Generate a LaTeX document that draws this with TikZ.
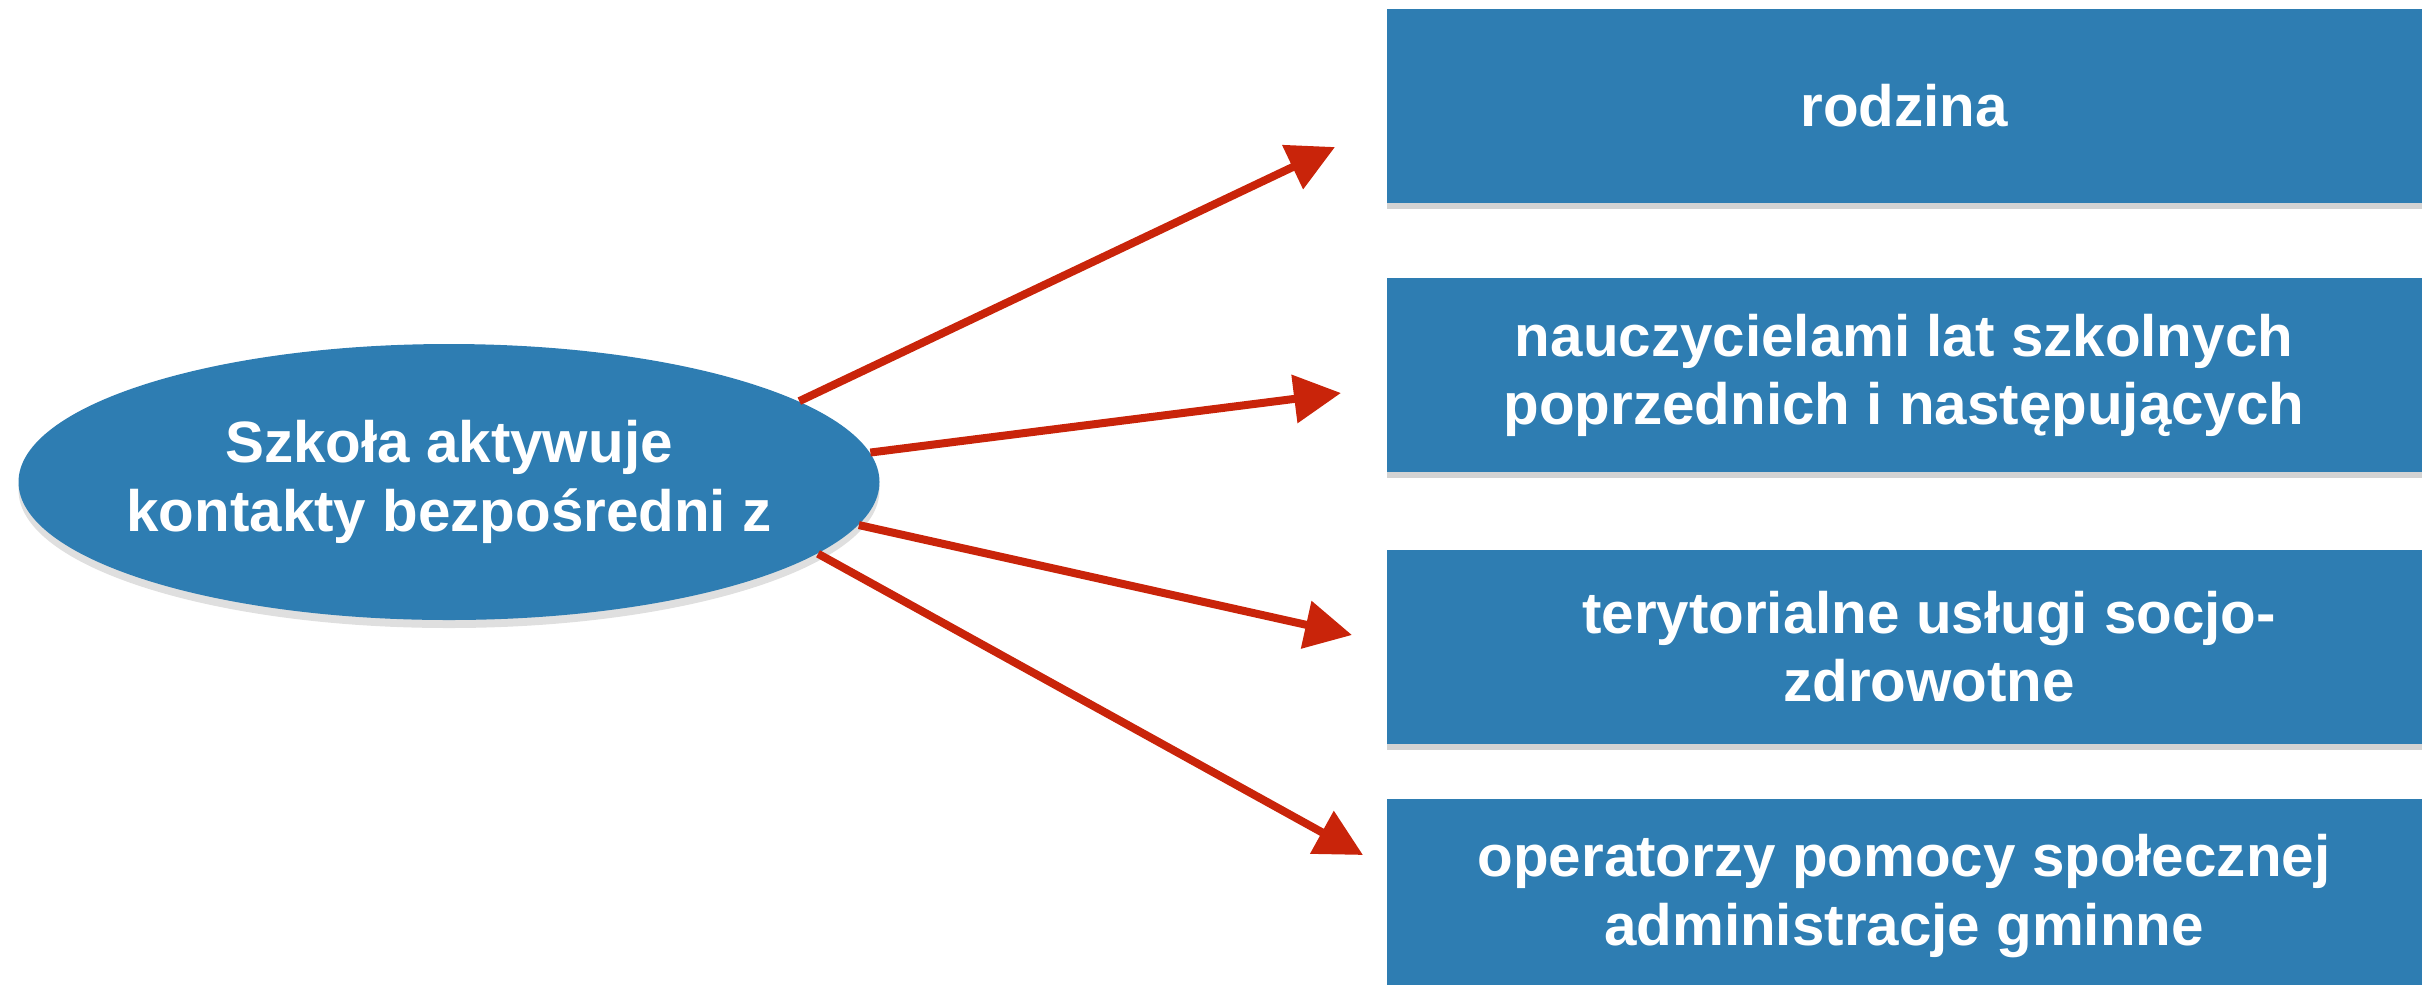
\documentclass[tikz,border=0pt]{standalone}
\usepackage{fontspec}
\setmainfont{Liberation Sans}
\usepackage{xcolor}
\usetikzlibrary{shapes.geometric,arrows.meta,positioning,shadows}
\definecolor{kafel}{RGB}{46,125,178}
\definecolor{strzalka}{RGB}{201,36,10}

\begin{document}
\begin{tikzpicture}[
        every node/.style={font=\bfseries\fontsize{16.6}{19.5}\selectfont, text=white, align=center},
        kafel/.style={rectangle, fill=kafel, minimum width=10.35cm, minimum height=1.94cm, inner sep=0pt,
            drop shadow={shadow xshift=0pt, shadow yshift=-0.06cm, opacity=0.35}},
        szkola/.style={ellipse, fill=kafel, minimum width=8.61cm, minimum height=2.76cm, inner xsep=-0.4cm, inner ysep=0pt,
            drop shadow={shadow xshift=0pt, shadow yshift=-0.08cm, opacity=0.25}},
        strzal/.style={draw=strzalka, line width=0.08cm, -{Triangle[length=0.47cm, width=0.47cm]}}]

    \useasboundingbox (0,0) rectangle (24.29,-9.84);

    % centre
    \node[szkola] (szkola) at (4.49,-4.82) {Szkoła aktywuje\\kontakty bezpośredni z};

    % boxes on the right
    \node[kafel] (rodzina) at (19.04,-1.06) {rodzina};
    \node[kafel, below=0.74cm of rodzina] (nauczyciele) {nauczycielami lat szkolnych\\poprzednich i następujących};
    \node[kafel, below=0.76cm of nauczyciele] (uslugi) {\hspace*{5mm}terytorialne usługi socjo-\\\hspace*{5mm}zdrowotne};
    \node[kafel, below=0.54cm of uslugi] (operatorzy) {operatorzy pomocy społecznej\\administracje gminne};

    % arrow tips
    \coordinate (k1) at (13.35,-1.47);
    \coordinate (k2) at (13.41,-3.93);
    \coordinate (k3) at (13.52,-6.35);
    \coordinate (k4) at (13.63,-8.55);

    \draw[strzal] (szkola.13.5) -- (k1);
    \draw[strzal] (szkola.4.5) -- (k2);
    \draw[strzal] (szkola.-6.3) -- (k3);
    \draw[strzal] (szkola.-11.2) -- (k4);
\end{tikzpicture}
\end{document}
